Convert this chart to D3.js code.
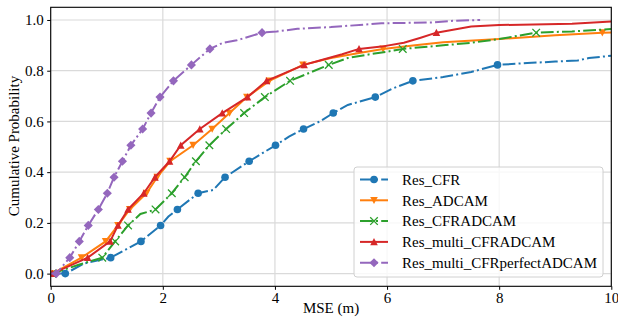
<!DOCTYPE html>
<html>
<head>
<meta charset="utf-8">
<script src="https://cdn.jsdelivr.net/npm/d3@7"></script>
<style>
  body { margin: 0; background: #fff; }
  text { font-family: "Liberation Serif", "Times New Roman", serif; }
</style>
</head>
<body>
<div id="chart"></div>
<script>
// marker probability levels (every 10th sample of the CDF)
var markP = [0, 0.063, 0.127, 0.19, 0.253, 0.317, 0.38, 0.443, 0.506, 0.57, 0.633, 0.696, 0.76, 0.823, 0.886, 0.95];

// MSE values at the marker levels
var cfrMark     = [0.26, 1.07, 1.61, 1.96, 2.26, 2.63, 3.11, 3.54, 4.01, 4.51, 5.04, 5.79, 6.46, 7.97];
var adcamMark   = [0.03, 0.55, 0.98, 1.2, 1.41, 1.71, 1.9, 2.13, 2.54, 2.88, 3.19, 3.5, 3.9, 4.5, 5.93, 9.84];
var cfradcamMark = [0.03, 0.92, 1.15, 1.38, 1.87, 2.16, 2.39, 2.59, 2.83, 3.13, 3.45, 3.82, 4.27, 4.96, 6.28, 8.66];
var multiMark   = [0.03, 0.66, 1.06, 1.2, 1.38, 1.66, 1.86, 2.12, 2.32, 2.66, 3.06, 3.51, 3.85, 4.52, 5.5, 6.88];
var perfectMark = [0.1, 0.34, 0.51, 0.67, 0.85, 1.01, 1.13, 1.28, 1.43, 1.64, 1.79, 1.95, 2.19, 2.51, 2.84, 3.77];

// extra curve points between / after the markers
var cfrExtraX = [0.0, 0.6, 1.3, 2.1, 2.9, 4.25, 4.8, 5.3, 6.1, 7.0, 7.5, 8.5, 9.0, 9.4, 9.6, 10];
var cfrExtraP = [0.0, 0.04, 0.09, 0.225, 0.33, 0.54, 0.6, 0.665, 0.73, 0.775, 0.795, 0.83, 0.836, 0.84, 0.85, 0.859];
var adcamExtraX = [0.0, 5.0, 5.5, 6.5, 7.0, 8.0, 9.0, 10];
var adcamExtraP = [0.0, 0.85, 0.87, 0.9, 0.912, 0.925, 0.94, 0.951];
var cfradcamExtraX = [0.0, 0.5, 1.6, 5.3, 5.7, 6.0, 7.0, 7.5, 8.0, 9.3, 10];
var cfradcamExtraP = [0.0, 0.035, 0.235, 0.85, 0.865, 0.875, 0.9, 0.91, 0.925, 0.955, 0.964];
var multiExtraX = [0.0, 4.8, 5.2, 5.9, 6.3, 6.6, 7.5, 8.0, 9.3, 10];
var multiExtraP = [0.0, 0.84, 0.865, 0.895, 0.91, 0.93, 0.974, 0.98, 0.985, 0.994];
var perfectExtraX = [0.0, 3.07, 3.32, 4.03, 4.4, 5.0, 5.6, 5.9, 6.8, 7.2, 7.66];
var perfectExtraP = [0.0, 0.91, 0.92, 0.955, 0.965, 0.972, 0.982, 0.987, 0.99, 0.997, 1.0];

var names = ["Res_CFR", "Res_ADCAM", "Res_CFRADCAM", "Res_multi_CFRADCAM", "Res_multi_CFRperfectADCAM"];
var colors = ["#1f77b4", "#ff7f0e", "#2ca02c", "#d62728", "#9467bd"];
var dashes = ["12.8,3.2,2,3.2", null, "12.8,3.2,2,3.2", null, "12.8,3.2,2,3.2"];
var symbols = ["circle", "tridown", "x", "triup", "diamond"];

var xTicks = [0, 2, 4, 6, 8, 10];
var yTicks = [0, 0.2, 0.4, 0.6, 0.8, 1.0];

function build(mark, ex, ep) {
    var pts = mark.map(function(v, i) { return { x: v, p: markP[i], m: true }; });
    ex.forEach(function(v, i) { pts.push({ x: v, p: ep[i], m: false }); });
    pts.sort(function(a, b) { return a.p - b.p || a.x - b.x; });
    return pts;
}

var series = [
    build(cfrMark, cfrExtraX, cfrExtraP),
    build(adcamMark, adcamExtraX, adcamExtraP),
    build(cfradcamMark, cfradcamExtraX, cfradcamExtraP),
    build(multiMark, multiExtraX, multiExtraP),
    build(perfectMark, perfectExtraX, perfectExtraP)
];

var W = 618, H = 324;
var svg = d3.select("#chart").append("svg").attr("width", W).attr("height", H);

var x = d3.scaleLinear().domain([0, 10]).range([50.7, 611.3]);
var y = d3.scaleLinear().domain([-0.05, 1.05]).range([286.3, 7.3]);

// grid
var grid = svg.append("g");
grid.selectAll("vl").data(xTicks).enter().append("line")
    .attr("x1", function(d) { return x(d); }).attr("x2", function(d) { return x(d); })
    .attr("y1", y.range()[0]).attr("y2", y.range()[1])
    .attr("stroke", "#dadada").attr("stroke-width", 1.2);
grid.selectAll("hl").data(yTicks).enter().append("line")
    .attr("y1", function(d) { return y(d); }).attr("y2", function(d) { return y(d); })
    .attr("x1", x.range()[0]).attr("x2", x.range()[1])
    .attr("stroke", "#dadada").attr("stroke-width", 1.2);

var plot = svg.append("g");
plot.append("clipPath").attr("id", "clip").append("rect")
    .attr("x", 50.7).attr("y", 7.3).attr("width", 560.6).attr("height", 279);

function drawMarker(g, sym, color, cx, cy) {
    var s = 3.8;
    if (sym === "circle") {
        g.append("circle").attr("cx", cx).attr("cy", cy).attr("r", s).attr("fill", color);
    } else if (sym === "tridown") {
        g.append("path").attr("d", "M" + (cx - s) + "," + (cy - s * 0.9) + "L" + (cx + s) + "," + (cy - s * 0.9) + "L" + cx + "," + (cy + s) + "Z").attr("fill", color);
    } else if (sym === "triup") {
        g.append("path").attr("d", "M" + (cx - s) + "," + (cy + s * 0.9) + "L" + (cx + s) + "," + (cy + s * 0.9) + "L" + cx + "," + (cy - s) + "Z").attr("fill", color);
    } else if (sym === "diamond") {
        g.append("path").attr("d", "M" + cx + "," + (cy - s * 1.2) + "L" + (cx + s * 1.2) + "," + cy + "L" + cx + "," + (cy + s * 1.2) + "L" + (cx - s * 1.2) + "," + cy + "Z").attr("fill", color);
    } else if (sym === "x") {
        g.append("path").attr("d", "M" + (cx - s) + "," + (cy - s) + "L" + (cx + s) + "," + (cy + s) + "M" + (cx - s) + "," + (cy + s) + "L" + (cx + s) + "," + (cy - s))
            .attr("stroke", color).attr("stroke-width", 1.3).attr("fill", "none");
    }
}

var line = d3.line().x(function(d) { return x(d.x); }).y(function(d) { return y(d.p); });

series.forEach(function(pts, i) {
    var g = plot.append("g").attr("clip-path", "url(#clip)");
    g.append("path").datum(pts)
        .attr("d", line)
        .attr("fill", "none")
        .attr("stroke", colors[i])
        .attr("stroke-width", 2)
        .attr("stroke-dasharray", dashes[i]);
    pts.filter(function(d) { return d.m; }).forEach(function(d) {
        drawMarker(g, symbols[i], colors[i], x(d.x), y(d.p));
    });
});

// axes
var xAxis = svg.append("g").attr("transform", "translate(0," + y.range()[0] + ")")
    .call(d3.axisBottom(x).tickValues(xTicks).tickSize(3.5).tickPadding(3).tickFormat(d3.format("d")));
var yAxis = svg.append("g").attr("transform", "translate(" + x.range()[0] + ",0)")
    .call(d3.axisLeft(y).tickValues(yTicks).tickSize(3.5).tickPadding(3.5).tickFormat(d3.format(".1f")));
[xAxis, yAxis].forEach(function(a) {
    a.attr("font-family", null);
    a.select(".domain").remove();
    a.selectAll("line").attr("stroke", "#000").attr("stroke-width", 1);
    a.selectAll("text").attr("fill", "#000").style("font-size", "15px")
        .style("font-family", "'Liberation Serif', serif");
});

// frame
svg.append("rect").attr("x", 50.7).attr("y", 7.3).attr("width", 560.6).attr("height", 279)
    .attr("fill", "none").attr("stroke", "#000").attr("stroke-width", 1.1);

// axis labels
svg.append("text").attr("x", 331).attr("y", 313).attr("text-anchor", "middle")
    .style("font-size", "15px").text("MSE (m)");
svg.append("text").attr("transform", "translate(19,146) rotate(-90)").attr("text-anchor", "middle")
    .style("font-size", "15px").text("Cumulative Probability");

// legend
var lg = svg.append("g");
lg.append("rect").attr("x", 354).attr("y", 167).attr("width", 249).attr("height", 110)
    .attr("rx", 3).attr("fill", "#fff").attr("fill-opacity", 0.8)
    .attr("stroke", "#d0d0d0").attr("stroke-width", 1);
names.forEach(function(n, i) {
    var cy = 179.5 + i * 20.8;
    lg.append("line").attr("x1", 360).attr("x2", 388).attr("y1", cy).attr("y2", cy)
        .attr("stroke", colors[i]).attr("stroke-width", 2).attr("stroke-dasharray", dashes[i]);
    drawMarker(lg, symbols[i], colors[i], 374, cy);
    lg.append("text").attr("x", 402).attr("y", cy).attr("dy", "0.35em")
        .style("font-size", "15px").attr("fill", "#000").text(n);
});
</script>
</body>
</html>
